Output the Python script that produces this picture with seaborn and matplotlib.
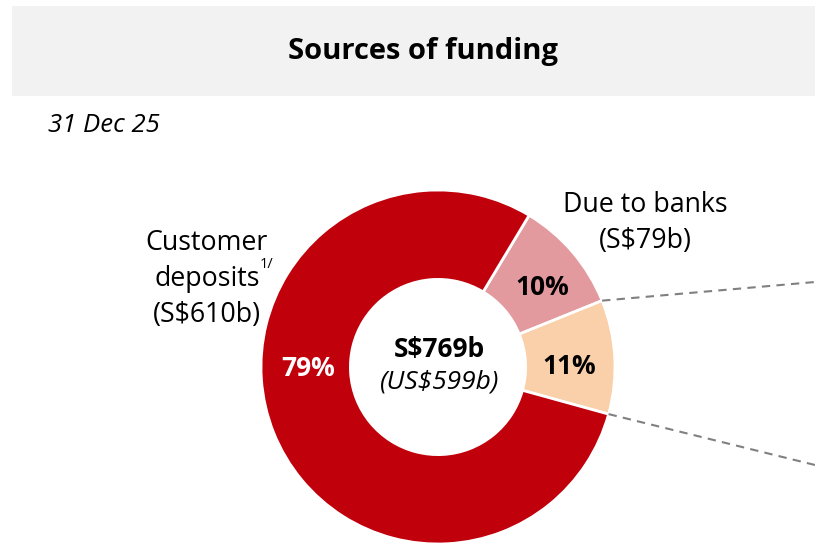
import numpy as np
import matplotlib.pyplot as plt
import matplotlib.patches as mpatches
import seaborn as sns

# --- Data ---
segments = ["Due to banks", "Other", "Customer deposits"]
amounts_sgd_b = [79, 80, 610]          # S$ billions
pct_labels = ["10%", "11%", "79%"]
total_sgd = "S$769b"
total_usd = "(US$599b)"
colors = ["#E39A9E", "#F9D0A9", "#C0000B"]

sns.set_theme(style="white")
plt.rcParams['font.family'] = ['Open Sans', 'DejaVu Sans']

W, H = 815, 547
fig = plt.figure(figsize=(W / 100, H / 100), dpi=100)
ax = fig.add_axes([0, 0, 1, 1])

# --- Donut, drawn in pixel coordinates (y measured upward) ---
cx, cy, r = 438, H - 367, 177
wedges, _ = ax.pie(amounts_sgd_b, colors=colors, startangle=59, counterclock=False,
                   center=(cx, cy), radius=r,
                   wedgeprops=dict(width=r * 0.505, edgecolor="white", linewidth=2))
ax.set_xlim(0, W)
ax.set_ylim(0, H)
ax.set_aspect("equal")
ax.axis("off")

# --- Title band ---
ax.add_patch(mpatches.Rectangle((12, H - 96), W - 12, 90, facecolor="#F2F2F2",
                                edgecolor="none", zorder=0))
ax.text(423, H - 51, "Sources of funding", ha="center", va="center",
        fontsize=21, fontweight="bold", color="black")
ax.text(48, H - 125, "31 Dec 25", ha="left", va="center", fontsize=18.5,
        style="italic", color="black")

# --- Percentage labels inside the ring ---
for w, lab in zip(wedges, pct_labels):
    if lab == "79%":
        col = "white"
        ang = np.deg2rad(180.5)
        rr = 130
    else:
        col = "black"
        ang = np.deg2rad((w.theta1 + w.theta2) / 2 - 3)
        rr = 131
    x = cx + rr * np.cos(ang)
    y = cy + rr * np.sin(ang)
    ax.text(x, y, lab, ha="center", va="center", fontsize=19,
            fontweight="bold", color=col)

# --- Centre text ---
ax.text(cx + 1, cy + 17, total_sgd, ha="center", va="center", fontsize=19,
        fontweight="bold", color="black")
ax.text(cx + 2, cy - 15, total_usd, ha="center", va="center", fontsize=19,
        style="italic", color="black")

# --- Outside labels (one line per text so the footnote mark sits close) ---
for line, y in [("Customer", 243), ("deposits", 279), ("(S$610b)", 315)]:
    ax.text(207, H - y, line, ha="center", va="center", fontsize=19.3, color="black")
ax.text(260, H - 265, "1/", ha="left", va="center", fontsize=10.5, color="black")
ax.text(645, H - 223, "Due to banks\n(S$79b)", ha="center", va="center",
        fontsize=19.3, linespacing=1.38, color="black")

# --- Dashed connectors from the "Other" wedge edges ---
other = wedges[1]
for ang_deg, y_end in [(other.theta2, H - 282), (other.theta1, H - 465)]:
    a = np.deg2rad(ang_deg)
    x0, y0 = cx + r * np.cos(a), cy + r * np.sin(a)
    ax.plot([x0, W], [y0, y_end], color="#808080", linestyle=(0, (4, 3)),
            linewidth=1.5, zorder=1)

fig.savefig("out.png", dpi=100)
